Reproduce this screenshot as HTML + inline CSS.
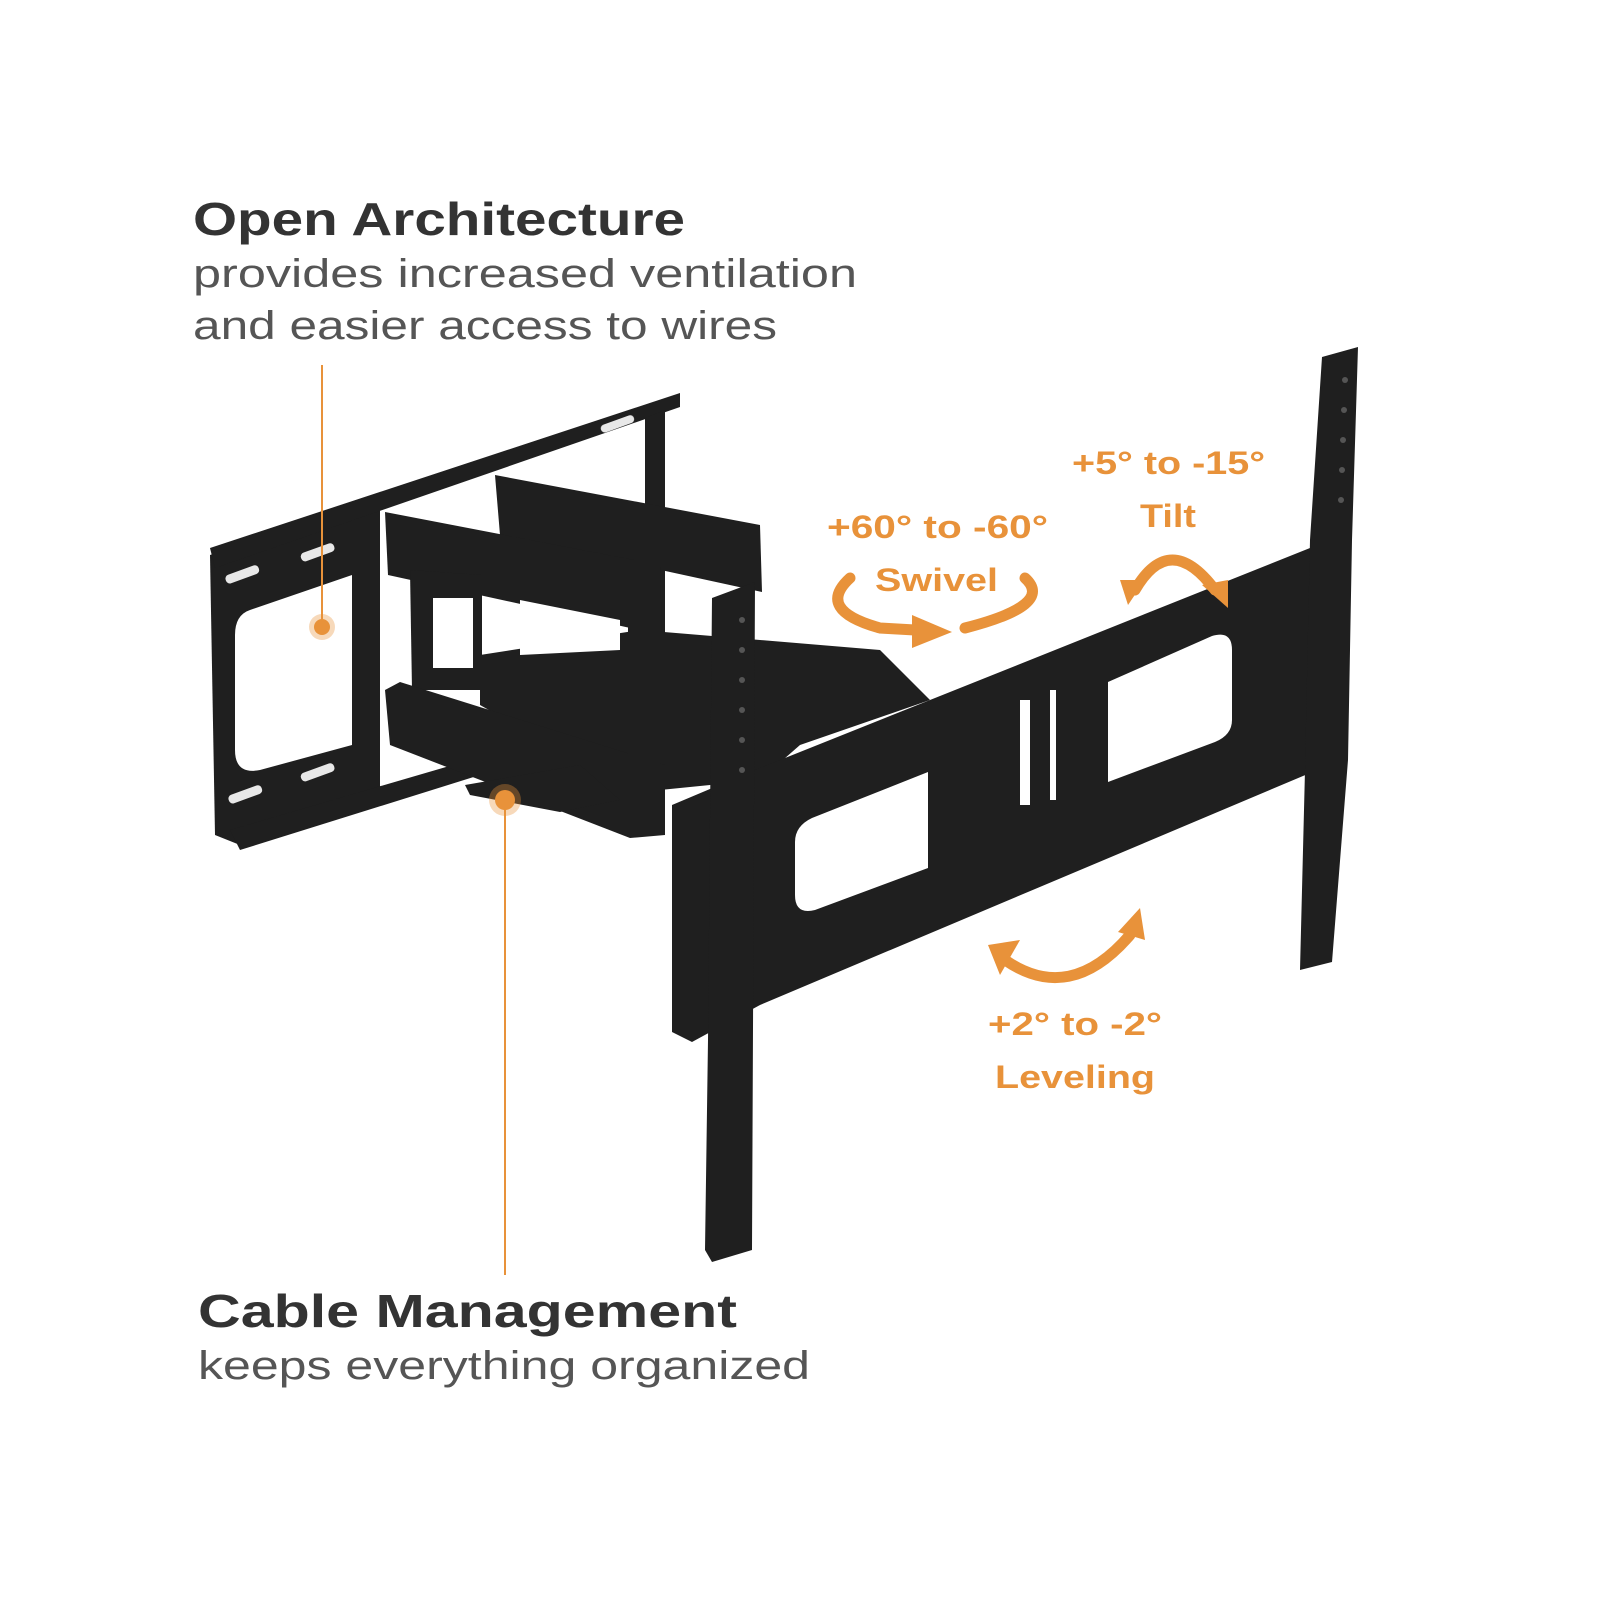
<!DOCTYPE html>
<html><head><style>
html,body{margin:0;padding:0;background:#fff;}
svg{display:block;}
</style></head><body>
<svg width="1600" height="1600" viewBox="0 0 1600 1600" xmlns="http://www.w3.org/2000/svg">
<rect width="1600" height="1600" fill="#fff"/>
<g font-family="Liberation Sans, sans-serif">
<text x="193" y="235" font-size="46" font-weight="bold" fill="#333" textLength="492" lengthAdjust="spacingAndGlyphs">Open Architecture</text>
<text x="193" y="287" font-size="40" fill="#555" textLength="664" lengthAdjust="spacingAndGlyphs">provides increased ventilation</text>
<text x="193" y="339" font-size="40" fill="#555" textLength="584" lengthAdjust="spacingAndGlyphs">and easier access to wires</text>
<text x="198" y="1327" font-size="46" font-weight="bold" fill="#333" textLength="539" lengthAdjust="spacingAndGlyphs">Cable Management</text>
<text x="198" y="1379" font-size="40" fill="#555" textLength="612" lengthAdjust="spacingAndGlyphs">keeps everything organized</text>
<g fill="#E8923A" font-weight="bold" font-size="32">
<text x="827" y="538" textLength="221" lengthAdjust="spacingAndGlyphs">+60° to -60°</text>
<text x="875" y="591" textLength="123" lengthAdjust="spacingAndGlyphs">Swivel</text>
<text x="1072" y="474" textLength="193" lengthAdjust="spacingAndGlyphs">+5° to -15°</text>
<text x="1140" y="527" textLength="56" lengthAdjust="spacingAndGlyphs">Tilt</text>
<text x="988" y="1035" textLength="174" lengthAdjust="spacingAndGlyphs">+2° to -2°</text>
<text x="995" y="1088" textLength="160" lengthAdjust="spacingAndGlyphs">Leveling</text>
</g>
</g>
<g fill="#1f1f1f">
<!-- wall plate left panel -->
<polygon points="210,555 380,500 380,790 240,845 215,835"/>
<!-- top flange -->
<polygon points="210,548 680,393 680,407 215,568"/>
<!-- right back flange -->
<polygon points="645,418 665,410 665,700 645,706"/>
<!-- bottom flange -->
<polygon points="230,830 470,760 480,775 240,850"/>
<!-- back upper arm -->
<polygon points="495,475 760,525 762,592 500,535"/>
<!-- front upper arm -->
<polygon points="385,512 660,565 662,635 388,575"/>
<!-- vertical block -->
<polygon points="410,570 482,575 482,690 412,690"/>
<!-- middle arm -->
<polygon points="480,655 640,630 760,640 880,650 930,700 800,745 760,780 660,790 560,750 480,705"/>
<!-- lower arm -->
<polygon points="385,690 400,682 665,765 665,835 630,838 390,745"/>
<!-- pivot pole -->
<rect x="628" y="560" width="32" height="275"/>
<polygon points="465,785 580,765 620,800 560,812 470,795"/>
<!-- horizontal bracket -->
<polygon points="672,805 755,770 1310,548 1322,552 1322,768 760,1005 692,1042 672,1032"/>
<!-- left vertical rail -->
<polygon points="712,598 755,582 752,1250 712,1262 705,1250 708,1040"/>
<!-- right vertical rail -->
<polygon points="1322,357 1358,347 1352,540 1348,760 1332,962 1300,970 1305,770 1310,540"/>
</g>
<g fill="#fff">
<path d="M250,610 L352,575 L352,745 L260,770 Q235,775 235,750 L235,635 Q235,615 250,610Z"/>
<path d="M812,818 L928,772 L928,868 L815,910 Q795,915 795,895 L795,842 Q795,826 812,818Z"/>
<path d="M1108,682 L1212,636 Q1232,630 1232,650 L1232,720 Q1232,735 1215,742 L1108,782Z"/>
<rect x="433" y="598" width="40" height="70"/>
<polygon points="520,600 620,620 620,650 520,655"/>
<g opacity="0.9">
<rect x="225" y="570" width="35" height="9" rx="4" transform="rotate(-20 242 575)"/>
<rect x="300" y="548" width="35" height="9" rx="4" transform="rotate(-20 317 552)"/>
<rect x="228" y="790" width="35" height="9" rx="4" transform="rotate(-20 245 795)"/>
<rect x="300" y="768" width="35" height="9" rx="4" transform="rotate(-20 317 772)"/>
<rect x="600" y="420" width="35" height="8" rx="4" transform="rotate(-20 617 424)"/>
</g>
<rect x="1020" y="700" width="10" height="105"/>
<rect x="1050" y="690" width="6" height="110"/>
</g>
<g fill="#555">
<circle cx="742" cy="620" r="3"/><circle cx="742" cy="650" r="3"/><circle cx="742" cy="680" r="3"/><circle cx="742" cy="710" r="3"/><circle cx="742" cy="740" r="3"/><circle cx="742" cy="770" r="3"/>
<circle cx="1345" cy="380" r="3"/><circle cx="1344" cy="410" r="3"/><circle cx="1343" cy="440" r="3"/><circle cx="1342" cy="470" r="3"/><circle cx="1341" cy="500" r="3"/>
</g>
<line x1="322" y1="365" x2="322" y2="627" stroke="#E8923A" stroke-width="2"/>
<circle cx="322" cy="627" r="13" fill="#E8923A" opacity="0.35"/>
<circle cx="322" cy="627" r="8" fill="#E8923A"/>
<line x1="505" y1="800" x2="505" y2="1275" stroke="#E8923A" stroke-width="2"/>
<circle cx="505" cy="800" r="16" fill="#E8923A" opacity="0.35"/>
<circle cx="505" cy="800" r="10" fill="#E8923A"/>
<g fill="none" stroke="#E8923A" stroke-width="11" stroke-linecap="round">
<path d="M850,578 Q815,610 880,628 L915,630"/>
<path d="M1025,578 Q1055,605 965,628"/>
<path d="M1135,590 Q1170,530 1215,590"/>
<path d="M1005,960 Q1070,1005 1130,935"/>
</g>
<g fill="#E8923A">
<polygon points="912,615 952,632 912,648"/>
<polygon points="1120,580 1145,580 1128,605"/>
<polygon points="1202,585 1228,580 1228,608"/>
<polygon points="988,945 1020,940 1000,975"/>
<polygon points="1118,932 1140,908 1145,940"/>
</g>
</svg>
</body></html>
